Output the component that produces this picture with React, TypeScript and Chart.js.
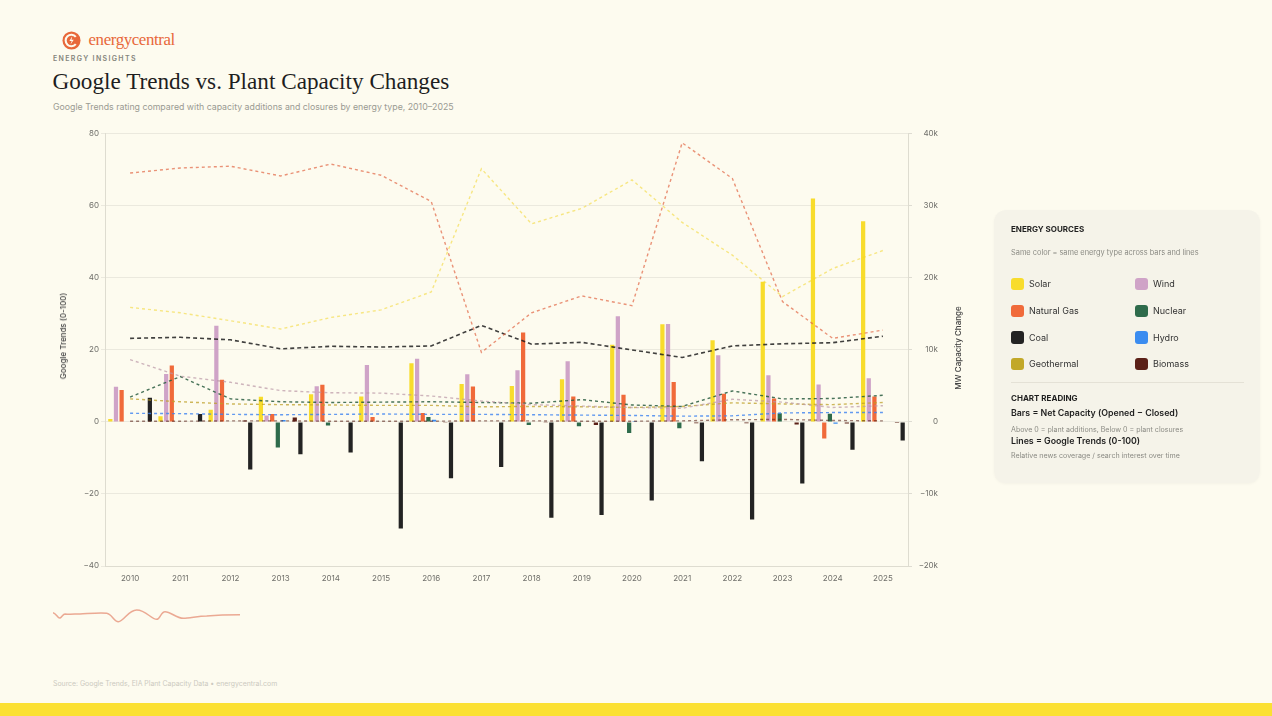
import React, { useEffect, useRef } from "react";
import { Chart, registerables } from "chart.js";
Chart.register(...registerables);

// ---------- DATA ----------
const years = ["2010", "2011", "2012", "2013", "2014", "2015", "2016", "2017", "2018", "2019", "2020", "2021", "2022", "2023", "2024", "2025"];

// Net capacity change (MW) — bars, right axis
const solarMW = [400, 800, 1700, 3500, 3860, 3540, 8140, 5280, 5000, 5930, 10710, 13560, 11350, 19450, 31030, 27860];
const windMW = [4870, 6660, 13340, 890, 4970, 7900, 8780, 6620, 7170, 8410, 14660, 13610, 9240, 6480, 5200, 6070];
const gasMW = [4450, 7820, 5840, 1100, 5150, 690, 1240, 4920, 12410, 3540, 3770, 5560, 3900, 3270, -2300, 3540];
const nuclearMW = [0, 0, 0, -3540, -500, 0, 690, 0, -420, -600, -1520, -870, 0, 1200, 1150, 0];
const hydroMW = [0, 0, 0, 280, 0, 0, 320, 0, 0, 0, 140, 0, 0, 0, -250, 0];
const geothermalMW = [0, 0, 0, 0, 0, 0, 0, 0, 0, 0, 0, 0, 0, 0, 0, 0];
const biomassMW = [0, 0, 200, 600, 0, 0, -100, 0, -100, -420, 0, -200, -200, -370, -230, -140];
const coalMW = [3370, 1100, -6600, -4500, -4230, -14800, -7820, -6250, -13290, -12920, -10900, -5470, -13560, -8550, -3860, -2580];

// Google Trends rating (0-100) — lines, left axis
const solarTrend = [31.8, 30.3, 28.1, 25.8, 29.0, 31.1, 36.1, 70.3, 55.0, 59.3, 67.2, 55.4, 46.3, 34.8, 42.6, 47.6];
const gasTrend = [69.1, 70.5, 71.0, 68.3, 71.6, 68.5, 61.2, 19.3, 30.3, 35.0, 32.3, 77.5, 67.6, 33.4, 23.2, 25.5];
const coalTrend = [23.2, 23.5, 22.8, 20.3, 21.0, 20.8, 21.1, 26.8, 21.6, 22.1, 20.0, 17.9, 21.1, 21.7, 22.0, 23.8];
const windTrend = [17.3, 12.7, 11.0, 8.7, 8.1, 8.0, 7.2, 5.8, 4.8, 4.4, 4.0, 3.8, 6.3, 5.5, 4.0, 4.5];
const nuclearTrend = [6.9, 12.6, 6.4, 5.6, 5.4, 5.5, 5.6, 5.4, 5.2, 6.2, 4.7, 4.3, 8.6, 6.4, 6.5, 7.4];
const geothermalTrend = [6.4, 5.6, 5.0, 4.8, 4.7, 4.6, 4.6, 4.2, 4.3, 4.2, 4.0, 4.3, 5.3, 5.0, 4.8, 5.4];
const hydroTrend = [2.4, 2.3, 2.1, 2.0, 2.1, 2.2, 2.1, 2.1, 2.0, 1.9, 1.8, 1.6, 1.7, 2.5, 2.6, 2.6];
const biomassTrend = [0.2, 0.2, 0.3, 0.3, 0.2, 0.2, 0.2, 0.3, 0.3, 0.2, 0.2, 0.3, 0.6, 0.7, 0.4, 0.3];

const leftTicks = [-40, -20, 0, 20, 40, 60, 80];
const rightTicks = [-20000, -10000, 0, 10000, 20000, 30000, 40000];

// ---------- STYLE ----------
const C = {
  solar: "#f8dc2c",
  wind: "#cfa3c7",
  gas: "#f06a3a",
  nuclear: "#2e6b4b",
  hydro: "#3b8cf0",
  geothermal: "#c2a828",
  biomass: "#5b2017",
  coal: "#232323",
};
const L = {
  solar: "rgba(242, 214, 40, 0.55)",
  wind: "rgba(185, 150, 165, 0.7)",
  gas: "rgba(226, 105, 72, 0.72)",
  nuclear: "rgba(40, 90, 62, 0.85)",
  hydro: "rgba(59, 130, 240, 0.8)",
  geothermal: "rgba(190, 160, 40, 0.75)",
  biomass: "rgba(90, 35, 25, 0.6)",
  coal: "rgba(30, 30, 30, 0.85)",
};

const SANS = "Inter, 'Noto Sans', sans-serif";
const SERIF = "'Liberation Serif', 'DejaVu Serif', serif";
const minus = (s: string) => s.replace("-", "\u2212");

function Txt(props: any) {
  const { x, y, size, color, weight, family, ls, children, style } = props;
  return (
    <div
      style={{
        position: "absolute",
        left: x,
        top: y,
        transform: "translateY(-50%)",
        fontSize: size,
        lineHeight: 1.2,
        color: color || "#222",
        fontWeight: weight || 400,
        fontFamily: family || SANS,
        letterSpacing: ls || 0,
        whiteSpace: "nowrap",
        ...(style || {}),
      }}
    >
      {children}
    </div>
  );
}

const legendItems = [
  ["Solar", C.solar, 0, 0],
  ["Wind", C.wind, 1, 0],
  ["Natural Gas", C.gas, 0, 1],
  ["Nuclear", C.nuclear, 1, 1],
  ["Coal", C.coal, 0, 2],
  ["Hydro", C.hydro, 1, 2],
  ["Geothermal", C.geothermal, 0, 3],
  ["Biomass", C.biomass, 1, 3],
] as const;
const rowY = [284, 311, 337.5, 364];

export default function App() {
  const ref = useRef<HTMLCanvasElement>(null);

  useEffect(() => {
    const canvas = ref.current;
    if (!canvas) return;
    const bar = (label: string, data: number[], color: string) => ({
      type: "bar" as const,
      label,
      data,
      backgroundColor: color,
      yAxisID: "y1",
      order: 2,
      categoryPercentage: 0.9,
      barPercentage: 0.75,
    });
    const line = (label: string, data: number[], color: string, dash: number[], w: number) => ({
      type: "line" as const,
      label,
      data,
      borderColor: color,
      backgroundColor: color,
      borderWidth: w,
      borderDash: dash,
      pointRadius: 0,
      tension: 0,
      fill: false,
      yAxisID: "y",
      order: 1,
    });
    const chart = new Chart(canvas, {
      type: "bar",
      data: {
        labels: years,
        datasets: [
          bar("Solar", solarMW, C.solar),
          bar("Wind", windMW, C.wind),
          bar("Natural Gas", gasMW, C.gas),
          bar("Nuclear", nuclearMW, C.nuclear),
          bar("Hydro", hydroMW, C.hydro),
          bar("Geothermal", geothermalMW, C.geothermal),
          bar("Biomass", biomassMW, C.biomass),
          bar("Coal", coalMW, C.coal),
          line("Solar trend", solarTrend, L.solar, [3, 3], 1.4),
          line("Wind trend", windTrend, L.wind, [3, 3], 1.4),
          line("Natural Gas trend", gasTrend, L.gas, [3, 3], 1.4),
          line("Nuclear trend", nuclearTrend, L.nuclear, [3, 3], 1.4),
          line("Hydro trend", hydroTrend, L.hydro, [3, 3], 1.4),
          line("Geothermal trend", geothermalTrend, L.geothermal, [3, 3], 1.4),
          line("Biomass trend", biomassTrend, L.biomass, [3, 3], 1.4),
          line("Coal trend", coalTrend, L.coal, [4, 3], 1.6),
        ] as any,
      },
      options: {
        animation: false,
        responsive: false,
        maintainAspectRatio: false,
        layout: { padding: { top: 11, left: 0, right: 42, bottom: 0 } },
        plugins: { legend: { display: false }, tooltip: { enabled: false } },
        scales: {
          x: {
            type: "category",
            offset: true,
            grid: { display: false, drawTicks: false },
            border: { display: true, color: "#dedcd0" },
            ticks: { color: "#6f6f6a", font: { family: SANS, size: 8 }, padding: 8 },
            afterFit: (s: any) => {
              s.height = 24;
            },
          },
          y: {
            type: "linear",
            position: "left",
            min: -40,
            max: 80,
            afterBuildTicks: (s: any) => {
              s.ticks = leftTicks.map((v) => ({ value: v }));
            },
            grid: { color: "rgba(0,0,0,0.07)", tickLength: 4 },
            border: { display: true, color: "#dedcd0" },
            ticks: {
              color: "#6f6f6a",
              font: { family: SANS, size: 8 },
              padding: 2,
              callback: (v: any) => minus(String(v)),
            },
            afterFit: (s: any) => {
              s.width = 65;
            },
          },
          y1: {
            type: "linear",
            position: "right",
            min: -20000,
            max: 40000,
            afterBuildTicks: (s: any) => {
              s.ticks = rightTicks.map((v) => ({ value: v }));
            },
            grid: { drawOnChartArea: false, color: "rgba(0,0,0,0.12)", tickLength: 4 },
            border: { display: true, color: "#dedcd0" },
            ticks: {
              color: "#6f6f6a",
              font: { family: SANS, size: 8 },
              padding: 9,
              crossAlign: "far",
              callback: (v: any) => (v === 0 ? "0" : minus(String(v / 1000)) + "k"),
            },
            afterFit: (s: any) => {
              s.width = 30;
            },
          },
        },
      } as any,
    });
    return () => chart.destroy();
  }, []);

  return (
    <div
      style={{
        position: "fixed",
        left: 0,
        top: 0,
        width: 1272,
        height: 716,
        background: "#fdfbef",
        overflow: "hidden",
        fontFamily: SANS,
      }}
    >
      {/* logo */}
      <svg style={{ position: "absolute", left: 62, top: 31 }} width={19} height={19} viewBox="0 0 20 20">
        <circle cx="10" cy="10" r="9.5" fill="#e8683a" />
        <path d="M14.5 6.2 A6 6 0 1 0 14.5 13.8" stroke="#fdfbef" strokeWidth="2.2" fill="none" />
        <path d="M10.8 5.5 L7.8 10.6 L10.2 10.6 L8.8 14.5 L12.4 9.2 L10 9.2 Z" fill="#fdfbef" />
      </svg>
      <Txt x={88.5} y={40} size={16.9} color="#e8683a" family={SERIF} ls={-0.4}>
        energycentral
      </Txt>
      <Txt x={53} y={58.5} size={7} color="#85857c" weight={600} ls={1.35}>
        ENERGY INSIGHTS
      </Txt>
      <Txt x={52.5} y={82} size={23.2} color="#1e1e1e" family={SERIF}>
        Google Trends vs. Plant Capacity Changes
      </Txt>
      <Txt x={53} y={107} size={8.78} color="#9a9a92">
        Google Trends rating compared with capacity additions and closures by energy type, 2010–2025
      </Txt>

      {/* chart */}
      <canvas
        ref={ref}
        width={940}
        height={470}
        style={{ position: "absolute", left: 40, top: 120, width: 940, height: 470 }}
      />
      <div
        style={{
          position: "absolute",
          left: 63,
          top: 336,
          transform: "translate(-50%,-50%) rotate(-90deg)",
          fontSize: 8,
          color: "#444",
          whiteSpace: "nowrap",
          fontWeight: 500,
        }}
      >
        Google Trends (0-100)
      </div>
      <div
        style={{
          position: "absolute",
          left: 958,
          top: 348,
          transform: "translate(-50%,-50%) rotate(-90deg)",
          fontSize: 8,
          color: "#444",
          whiteSpace: "nowrap",
          fontWeight: 500,
        }}
      >
        MW Capacity Change
      </div>

      {/* legend panel */}
      <div
        style={{
          position: "absolute",
          left: 994,
          top: 210,
          width: 266,
          height: 273,
          borderRadius: 12,
          background: "#f5f3e9",
          boxShadow: "0 1px 3px rgba(0,0,0,0.04)",
        }}
      />
      <Txt x={1011} y={230} size={8} weight={700} color="#1e1e1e">
        ENERGY SOURCES
      </Txt>
      <Txt x={1011} y={253} size={7.4} color="#8b8b84">
        Same color = same energy type across bars and lines
      </Txt>
      {legendItems.map(([name, color, col, row]) => (
        <React.Fragment key={name}>
          <div
            style={{
              position: "absolute",
              left: col === 0 ? 1011 : 1135,
              top: rowY[row] - 6.3,
              width: 12.6,
              height: 12.6,
              borderRadius: 3,
              background: color,
            }}
          />
          <Txt x={col === 0 ? 1029 : 1153} y={rowY[row]} size={9} color="#333">
            {name}
          </Txt>
        </React.Fragment>
      ))}
      <div style={{ position: "absolute", left: 1011, top: 382, width: 233, height: 1, background: "#e4e1d6" }} />
      <Txt x={1011} y={399} size={8} weight={700} color="#1e1e1e">
        CHART READING
      </Txt>
      <Txt x={1011} y={413} size={8.8} weight={600} color="#1e1e1e">
        Bars = Net Capacity (Opened − Closed)
      </Txt>
      <Txt x={1011} y={430} size={7.1} color="#8b8b84">
        Above 0 = plant additions, Below 0 = plant closures
      </Txt>
      <Txt x={1011} y={440.5} size={8.8} weight={600} color="#1e1e1e">
        Lines = Google Trends (0-100)
      </Txt>
      <Txt x={1011} y={456} size={7.1} color="#8b8b84">
        Relative news coverage / search interest over time
      </Txt>

      {/* decorative squiggle */}
      <svg style={{ position: "absolute", left: 0, top: 590 }} width={260} height={50}>
        <path
          d="M53 22.7 C56 23, 58 29, 60 28 C62 27, 63 24, 65 24 C70 24.5, 75 24, 80 24 C90 23.5, 100 22.5, 106.7 23.3 C112 24, 114 31.7, 118.3 31.7 C124 31.5, 128 20, 136.7 20 C146 20, 151 29.3, 156.7 29.3 C160 29.3, 161 21.7, 165 21.7 C171 21.7, 176 28.3, 183.3 28.3 C190 28.3, 198 26, 206.7 26 C218 25, 230 24.7, 240 24.7"
          stroke="#e89a82"
          strokeWidth={1.5}
          fill="none"
          opacity={0.85}
        />
      </svg>

      {/* footer */}
      <Txt x={53} y={684} size={6.9} color="#cccac0">
        Source: Google Trends, EIA Plant Capacity Data • energycentral.com
      </Txt>
      <div style={{ position: "absolute", left: 0, top: 703, width: 1272, height: 13, background: "#fbe032" }} />
    </div>
  );
}
